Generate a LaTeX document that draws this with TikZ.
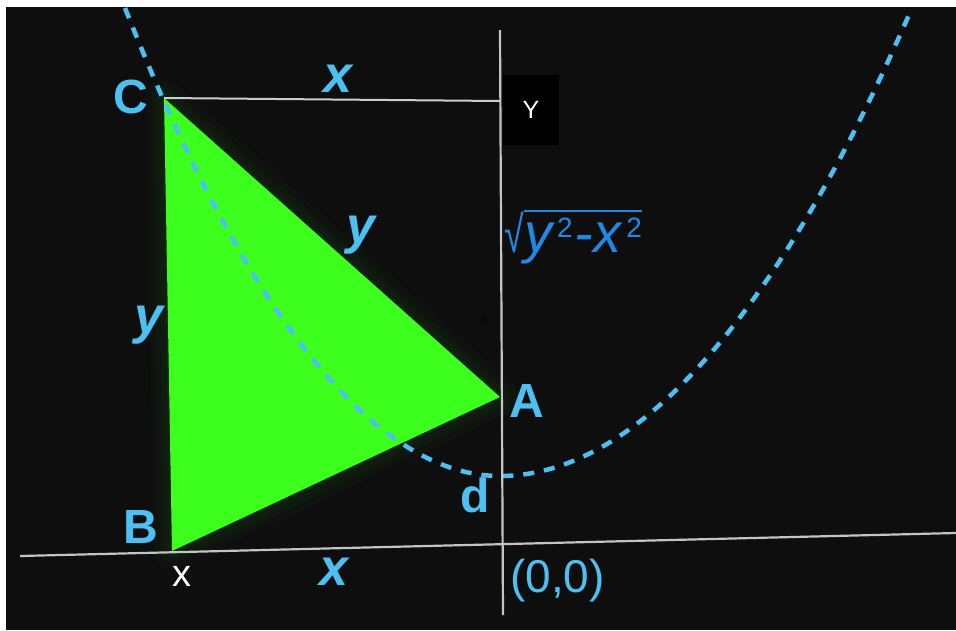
\documentclass[tikz,border=0pt]{standalone}
\usepackage{fontspec}
\setmainfont{Liberation Sans}
\definecolor{bgblack}{HTML}{0E0E0E}
\definecolor{lblblue}{RGB}{77,192,242}
\definecolor{rootblue}{RGB}{33,136,229}
\definecolor{trigreen}{RGB}{60,255,30}
\definecolor{glowgreen}{RGB}{30,140,20}
\definecolor{axisgray}{HTML}{C4C4C4}
\begin{document}
\begin{tikzpicture}[
  x=1pt, y=-1pt,
  vertexlbl/.style={text=lblblue, inner sep=0pt,
    font=\fontsize{48}{48}\selectfont\bfseries},
  sidelbl/.style={text=lblblue, inner sep=0pt,
    font=\fontsize{52}{52}\selectfont\bfseries\itshape},
  axisline/.style={draw=axisgray, line width=2.2pt},
  curve/.style={draw=lblblue, line width=4.5pt, dash pattern=on 11pt off 10pt},
  glow/.style={draw=glowgreen, line join=round, opacity=0.045},
]
% Frame and black board
\useasboundingbox (0,0) rectangle (956,630);
\fill[bgblack] (6,7) rectangle (956,630);

% Triangle corners and axis ends
\coordinate (C) at (164,98);
\coordinate (A) at (500,397);
\coordinate (B) at (172,551);
\coordinate (xl) at (20,556);
\coordinate (xr) at (956,533);
\coordinate (yt) at (500,30);
\coordinate (yb) at (503,615);
\coordinate (cy) at (500,101);

% Green triangle with a soft glow
\foreach \w in {36,24,14,6}
  \draw[glow, line width=\w pt] (C) -- (A) -- (B) -- cycle;
\fill[trigreen] (C) -- (A) -- (B) -- cycle;

% Dashed parabola
\draw[curve] (125,8) parabola bend (500,476) (912,8);

% Axes and the top line
\draw[axisline] (xl) -- (xr);
\draw[axisline] (yt) -- (yb);
\draw[draw=axisgray!85, line width=2pt] (C) -- (cy);

% Corner labels
\node[vertexlbl] (lblC) at (131,97) {C};
\node[vertexlbl] (lblA) at (527,401) {A};
\node[vertexlbl] (lblB) at (141,527) {B};
\node[vertexlbl] (lblD) at (475,495) {d};
\node[text=lblblue, inner sep=0pt, anchor=west,
  font=\fontsize{46}{46}\selectfont] (origin) at (510,581) {(0,0)};

% Side labels
\node[sidelbl] (xtop) at (338,79) {x};
\node[sidelbl] (xbot) at (334,572) {x};
\node[sidelbl] (yhyp) at (361,235) {y};
\node[sidelbl] (yleft) at (149,325) {y};

% Small white labels
\node[text=white, inner sep=0pt, font=\fontsize{38}{38}\selectfont] (xsmall) at (182,576) {x};
\node[fill=black, text=white, minimum width=56pt, minimum height=70pt,
  inner sep=0pt, font=\fontsize{25}{25}\selectfont] (ybox) at (531,110) {Y};
\node[text=black!80!bgblack, inner sep=0pt, font=\fontsize{10}{10}\selectfont] (faintA) at (485,320) {A};

% Root of y^2 - x^2
\node[text=rootblue, inner sep=0pt, anchor=base west,
  font=\fontsize{56}{56}\selectfont\itshape] (rad) at (524,252)
  {y\kern5pt\raisebox{15pt}{\fontsize{28}{28}\selectfont\upshape 2}\kern2pt-x\kern5pt\raisebox{15pt}{\fontsize{28}{28}\selectfont\upshape 2}};
\node[text=rootblue, inner sep=0pt, anchor=base east,
  font=\fontsize{42}{42}\selectfont] (root) at (rad.base west) {\scalebox{0.85}[1.22]{√}};
\draw[rootblue, line width=2pt] (root.north east) -- (root.north east -| rad.east);
\end{tikzpicture}
\end{document}
